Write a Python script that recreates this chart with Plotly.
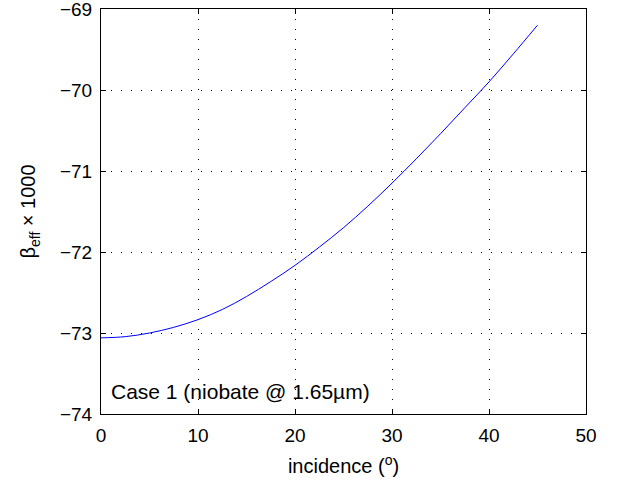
import plotly.graph_objects as go

incidence = [0, 2.5, 5, 7.5, 10, 12.5, 15, 17.5, 20, 22.5, 25, 27.5, 30, 32.5, 35, 37.5, 40, 42.5, 45]
beta_eff = [-73.06, -73.045, -73.00, -72.93, -72.835, -72.71, -72.55, -72.365, -72.165,
            -71.94, -71.70, -71.435, -71.15, -70.85, -70.54, -70.22, -69.90, -69.555, -69.20]

x_ticks = [0, 10, 20, 30, 40, 50]
y_ticks = [-74, -73, -72, -71, -70, -69]

font = "Liberation Sans, Arial, Helvetica, sans-serif"

fig = go.Figure()
fig.add_trace(go.Scatter(x=incidence, y=beta_eff, mode="lines", line_shape="spline",
                         line=dict(color="#0000ff", width=1), showlegend=False))

axis_common = dict(showline=True, linecolor="black", linewidth=1, mirror="ticks",
                   ticks="inside", ticklen=5, tickcolor="black", tickwidth=1,
                   showgrid=True, gridcolor="black", gridwidth=1, griddash="1px,9px",
                   zeroline=False, ticklabeloverflow="allow", automargin=False,
                   tickfont=dict(family=font, size=19, color="black"))

fig.update_xaxes(range=[0, 50], tickvals=x_ticks, **axis_common, ticklabelstandoff=4,
                 title=dict(text="incidence (<sup>o</sup>)", font=dict(family=font, size=20, color="black"), standoff=14))
fig.update_yaxes(range=[-74, -69], tickvals=y_ticks, **axis_common, ticklabelstandoff=4,
                 title=dict(text="β<sub>eff</sub> × 1000", font=dict(family=font, size=20, color="black"), standoff=18))

fig.add_annotation(x=0.016, y=0.055, xref="paper", yref="paper", xanchor="left", yanchor="middle",
                   text="Case 1 (niobate @ 1.65µm)", showarrow=False,
                   font=dict(family=font, size=21, color="black"))

fig.update_layout(width=618, height=486, margin=dict(l=101, r=32, t=9, b=72),
                  plot_bgcolor="white", paper_bgcolor="white")

fig.write_html("out.html")
